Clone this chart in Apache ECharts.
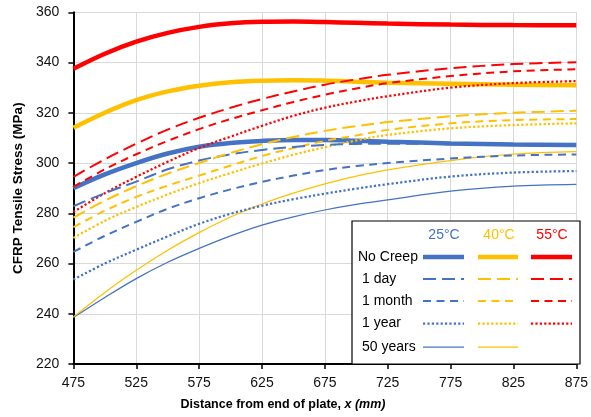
<!DOCTYPE html>
<html>
<head>
<meta charset="utf-8">
<script src="https://cdn.jsdelivr.net/npm/echarts@6/dist/echarts.min.js"></script>
<style>
  html, body { margin: 0; padding: 0; background: #fff; }
  #chart { width: 591px; height: 417px; }
</style>
</head>
<body>
<div id="chart"></div>
<script>
// Distance from end of plate, x (mm)
const distance = [475, 500, 525, 550, 575, 600, 625, 650, 675, 700, 725, 775, 825, 875];

// CFRP tensile stress (MPa) at 25 °C
const t25NoCreep = [290.0, 295.5, 300.0, 303.8, 306.5, 308.0, 308.8, 309.2, 309.2, 308.9, 308.5, 307.8, 307.4, 307.2];
const t25Day     = [282.8, 288.0, 292.6, 297.5, 301.0, 303.5, 305.2, 306.4, 307.2, 307.6, 307.7, 307.5, 307.3, 307.2];
const t25Month   = [264.6, 271.0, 276.6, 281.8, 286.0, 289.5, 292.5, 295.0, 297.2, 298.8, 300.0, 301.8, 303.0, 303.4];
const t25Year    = [253.6, 260.0, 265.5, 270.8, 275.8, 279.8, 283.0, 285.6, 287.8, 289.8, 291.6, 294.6, 296.2, 296.8];
const t25Years50 = [238.5, 246.5, 254.0, 260.5, 266.0, 271.0, 275.3, 278.6, 281.3, 283.5, 285.3, 288.8, 290.8, 291.5];

// CFRP tensile stress (MPa) at 40 °C
const t40NoCreep = [314.0, 320.0, 325.0, 328.5, 330.8, 332.2, 332.8, 333.0, 332.8, 332.4, 332.0, 331.6, 331.2, 331.0];
const t40Day     = [278.3, 285.0, 290.8, 295.8, 300.0, 304.0, 307.5, 310.4, 312.8, 314.7, 316.3, 318.6, 320.0, 320.8];
const t40Month   = [274.5, 281.0, 286.5, 291.0, 295.0, 299.0, 302.8, 306.0, 308.8, 311.0, 313.2, 315.8, 317.1, 317.5];
const t40Year    = [270.2, 277.0, 282.5, 287.5, 292.0, 296.0, 299.8, 303.3, 306.3, 309.0, 311.2, 313.8, 315.1, 315.8];
const t40Years50 = [238.7, 248.5, 257.3, 265.3, 272.3, 278.5, 283.7, 288.0, 291.7, 294.8, 297.3, 301.0, 303.5, 304.5];

// CFRP tensile stress (MPa) at 55 °C
const t55NoCreep = [337.5, 343.5, 348.3, 351.8, 354.2, 355.6, 356.2, 356.3, 356.1, 355.8, 355.5, 355.1, 354.9, 354.8];
const t55Day     = [294.5, 301.5, 307.7, 313.3, 318.0, 322.0, 325.5, 328.5, 331.2, 333.3, 335.1, 337.7, 339.4, 340.1];
const t55Month   = [290.5, 297.5, 303.5, 308.8, 313.5, 317.5, 321.0, 324.3, 327.2, 329.7, 331.8, 334.6, 336.5, 337.3];
const t55Year    = [280.5, 288.0, 294.5, 300.5, 306.0, 310.5, 314.8, 318.8, 322.0, 324.5, 326.6, 330.0, 331.8, 332.6];

// Axis ticks
const xTicks = { min: 475, max: 875, step: 50 };
const yTicks = { min: 220, max: 360, step: 20 };

// Legend text
const temperatures = ['25°C', '40°C', '55°C'];
const durations = ['No Creep', '1 day', '1 month', '1 year', '50 years'];

const COLORS = { '25°C': '#4472C4', '40°C': '#FFC000', '55°C': '#FF0000' };
const STROKES = {
  'No Creep': { width: 4.5, type: 'solid' },
  '1 day':    { width: 2,   type: [13, 6] },
  '1 month':  { width: 2,   type: [8, 5.5] },
  '1 year':   { width: 2.25, type: [2.2, 2.2] },
  '50 years': { width: 1.25, type: 'solid' }
};

const curves = [
  ['25°C', 'No Creep', t25NoCreep], ['40°C', 'No Creep', t40NoCreep], ['55°C', 'No Creep', t55NoCreep],
  ['25°C', '50 years', t25Years50], ['40°C', '50 years', t40Years50],
  ['25°C', '1 year', t25Year], ['40°C', '1 year', t40Year], ['55°C', '1 year', t55Year],
  ['25°C', '1 month', t25Month], ['40°C', '1 month', t40Month], ['55°C', '1 month', t55Month],
  ['25°C', '1 day', t25Day], ['40°C', '1 day', t40Day], ['55°C', '1 day', t55Day]
];

const series = curves.map(([temp, dur, values]) => ({
  name: temp + ' ' + dur,
  type: 'line',
  symbol: 'none',
  smooth: 0.35,
  data: distance.map((x, i) => [x, values[i]]),
  lineStyle: { color: COLORS[temp], width: STROKES[dur].width, type: STROKES[dur].type, cap: 'butt' },
  z: 2
}));

// Legend table drawn as a boxed key in the lower right of the plot
const FONT = '"Liberation Sans", Arial, sans-serif';
const key = { left: 352, top: 221, right: 580, bottom: 364 };
const colX = { '25°C': [423, 464], '40°C': [478, 518], '55°C': [531, 572] };
const headerX = { '25°C': 444, '40°C': 499, '55°C': 552 };
const rowY = [257, 279, 301, 323.5, 347];
const legendEls = [{
  type: 'rect',
  shape: { x: key.left, y: key.top, width: key.right - key.left, height: key.bottom - key.top },
  style: { fill: '#fff', stroke: '#000', lineWidth: 1.2 },
  z: 10
}];
temperatures.forEach(t => legendEls.push({
  type: 'text', x: headerX[t], y: 235, z: 11,
  style: { text: t, fill: COLORS[t], font: '14px ' + FONT, textAlign: 'center', textVerticalAlign: 'middle' }
}));
durations.forEach((d, r) => {
  legendEls.push({
    type: 'text', x: d === 'No Creep' ? 358 : 362, y: rowY[r], z: 11,
    style: { text: d, fill: '#000', font: '14px ' + FONT, textAlign: 'left', textVerticalAlign: 'middle' }
  });
  temperatures.forEach(t => {
    if (!curves.some(c => c[0] === t && c[1] === d)) return;
    legendEls.push({
      type: 'line', z: 11,
      shape: { x1: colX[t][0], y1: rowY[r], x2: colX[t][1], y2: rowY[r] },
      style: {
        stroke: COLORS[t], lineWidth: STROKES[d].width,
        lineDash: Array.isArray(STROKES[d].type) ? STROKES[d].type : null
      }
    });
  });
});

// X axis title with italic variable
legendEls.push({
  type: 'text', x: 283, y: 405, z: 11,
  style: {
    text: '{b|Distance from end of plate, }{i|x (mm)}',
    textAlign: 'center', textVerticalAlign: 'middle',
    rich: {
      b: { font: 'bold 12.5px ' + FONT, fill: '#000' },
      i: { font: 'italic bold 12.5px ' + FONT, fill: '#000' }
    }
  }
});

const chart = echarts.init(document.getElementById('chart'), null, { renderer: 'canvas' });
chart.setOption({
  animation: false,
  backgroundColor: '#fff',
  grid: { left: 73.4, right: 11, top: 12.3, bottom: 53, containLabel: false },
  xAxis: {
    type: 'value',
    min: xTicks.min, max: xTicks.max, interval: xTicks.step,
    axisLine: { show: true, lineStyle: { color: '#000', width: 2 } },
    axisTick: { show: true, length: 5, lineStyle: { color: '#000', width: 1.5 } },
    axisLabel: { color: '#111', fontSize: 14, fontFamily: FONT, margin: 12 },
    splitLine: { show: true, lineStyle: { color: '#d9d9d9', width: 1 } }
  },
  yAxis: {
    type: 'value',
    min: yTicks.min, max: yTicks.max, interval: yTicks.step,
    name: 'CFRP Tensile Stress (MPa)',
    nameLocation: 'middle',
    nameGap: 42,
    nameTextStyle: { fontSize: 13.5, fontWeight: 'bold', color: '#000', fontFamily: FONT },
    axisLine: { show: true, lineStyle: { color: '#000', width: 2 } },
    axisTick: { show: true, length: 5, lineStyle: { color: '#000', width: 1.5 } },
    axisLabel: { color: '#111', fontSize: 14, fontFamily: FONT, margin: 14 },
    splitLine: { show: true, lineStyle: { color: '#d9d9d9', width: 1 } }
  },
  graphic: legendEls,
  series: series
});
</script>
</body>
</html>
